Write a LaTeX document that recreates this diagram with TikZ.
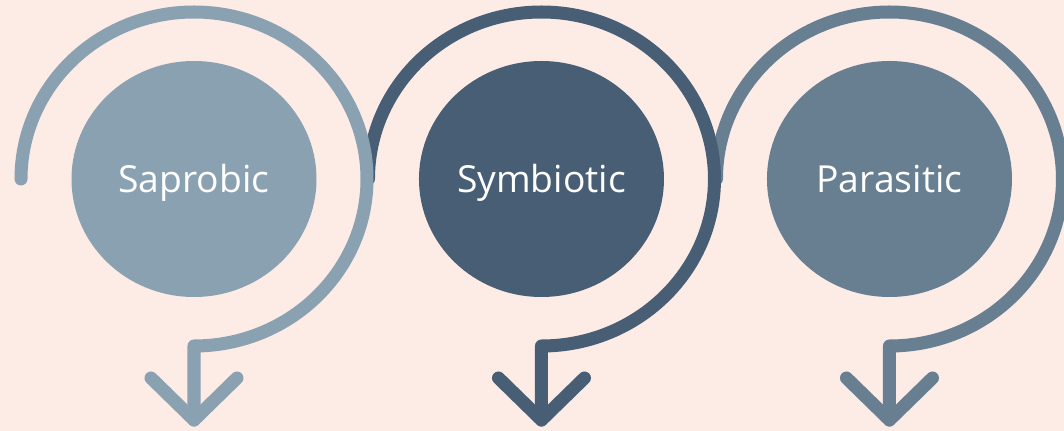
\documentclass[tikz,border=0pt]{standalone}
\usepackage{fontspec}
\setmainfont{Open Sans}
\usetikzlibrary{shapes.geometric}
\definecolor{bgpink}{RGB}{253,235,230}
\definecolor{sapblue}{RGB}{138,161,178}
\definecolor{symblue}{RGB}{71,94,117}
\definecolor{parblue}{RGB}{104,127,146}

\begin{document}
\begin{tikzpicture}[
  disc/.style={ellipse,minimum width=6.125cm,minimum height=5.9cm,inner sep=0pt,text=white,
    font=\fontsize{26.5}{30}\selectfont,text height=19pt,text depth=0pt},
  loop/.style={line width=9.25pt,line cap=round,line join=round}]
\clip (0.000,0.000) rectangle (26.600,-10.775);
\fill[bgpink] (0.000,0.000) rectangle (26.600,-10.775);
\node[disc,fill=sapblue] (sap) at (4.850,-4.475) {Saprobic};
\node[disc,fill=symblue] (sym) at (13.537,-4.475) {Symbiotic};
\node[disc,fill=parblue] (par) at (22.237,-4.475) {Parasitic};
\draw[loop,parblue] (par.center) ++(-4.325,0) arc[start angle=180,end angle=-90,x radius=4.325,y radius=4.175] -- ++(0,-1.850) coordinate (partip);
\draw[loop,parblue] (partip) ++(-1.075,1.050) -- (partip) -- ++(1.075,1.050);
\draw[loop,symblue] (sym.center) ++(-4.325,0) arc[start angle=180,end angle=-90,x radius=4.325,y radius=4.175] -- ++(0,-1.850) coordinate (symtip);
\draw[loop,symblue] (symtip) ++(-1.075,1.050) -- (symtip) -- ++(1.075,1.050);
\draw[loop,sapblue] (sap.center) ++(-4.325,0) arc[start angle=180,end angle=-90,x radius=4.325,y radius=4.175] -- ++(0,-1.850) coordinate (saptip);
\draw[loop,sapblue] (saptip) ++(-1.075,1.050) -- (saptip) -- ++(1.075,1.050);
\end{tikzpicture}
\end{document}
